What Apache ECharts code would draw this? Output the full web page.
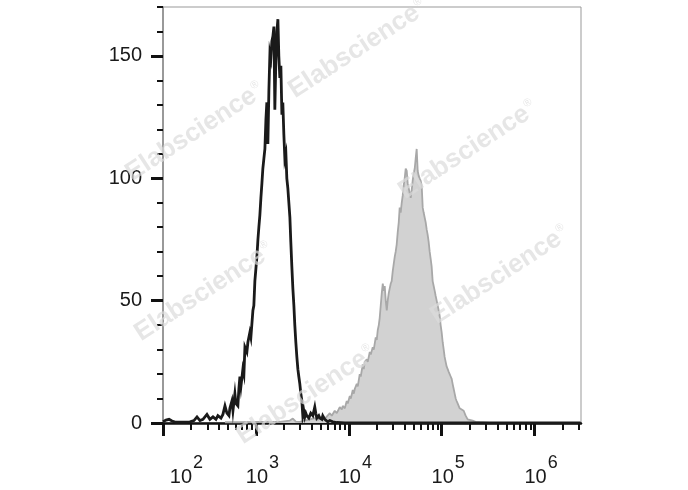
<!DOCTYPE html>
<html>
<head>
<meta charset="utf-8">
<script src="https://cdn.jsdelivr.net/npm/echarts@6/dist/echarts.min.js"></script>
<style>
html,body{margin:0;padding:0;background:#fff;}
#chart{width:688px;height:490px;}
</style>
</head>
<body>
<div id="chart"></div>
<script>
// Tick values and labels
const xMajorTicks = [2, 3, 4, 5, 6];          // log10 of fluorescence
const xTickExponents = ['2', '3', '4', '5', '6'];
const yMajorTicks = [0, 50, 100, 150];
const yTickLabels = ['0', '50', '100', '150'];
const yMinorTicks = [10, 20, 30, 40, 60, 70, 80, 90, 110, 120, 130, 140, 160, 170];
const xMinorMultipliers = [2, 3, 4, 5, 6, 7, 8, 9];
const watermarkText = 'Elabscience';

// Stained sample (black outline): [log10 FL, count]
const blackHist = [
  [2.000,0.5],[2.032,1.2],[2.065,1.5],[2.097,0.8],[2.140,0.3],[2.183,0.3],[2.237,0.3],[2.290,0.5],
  [2.333,1],[2.366,2.5],[2.398,1],[2.430,1.5],[2.473,3.5],[2.505,1.5],[2.538,2.5],[2.570,1.5],
  [2.591,3],[2.624,2],[2.645,3.5],[2.667,7],[2.688,4],[2.710,3],[2.720,6],[2.742,9],[2.753,5],
  [2.774,12],[2.785,8],[2.806,7],[2.817,14],[2.828,19],[2.839,15],[2.860,22],[2.871,20],[2.882,31],
  [2.903,29],[2.914,33],[2.935,37],[2.946,35],[2.968,46],[2.978,48],[2.989,58],[3.000,63],[3.011,68],
  [3.022,75],[3.032,80],[3.043,85],[3.054,92],[3.065,98],[3.075,104],[3.086,108],[3.097,112],[3.108,124],
  [3.118,131],[3.129,114],[3.140,136],[3.151,151],[3.161,149],[3.172,156],[3.183,158],[3.194,162],
  [3.204,128],[3.215,148],[3.226,160],[3.237,165],[3.247,150],[3.258,141],[3.269,146],[3.280,126],
  [3.290,131],[3.301,118],[3.312,108],[3.323,110],[3.333,100],[3.344,96],[3.355,90],[3.366,84],
  [3.376,74],[3.387,64],[3.398,55],[3.409,48],[3.419,40],[3.430,33],[3.441,27],[3.452,22],[3.462,19],
  [3.473,16],[3.484,12],[3.495,9],[3.505,3],[3.516,5],[3.527,2.5],[3.538,4],[3.548,3],[3.570,2],
  [3.591,4],[3.613,3],[3.634,6.5],[3.645,4],[3.656,2],[3.677,3],[3.688,2],[3.710,1.5],[3.720,3],
  [3.742,1.5],[3.774,0.5],[3.796,1],[3.828,0.5],[3.871,0.2],[3.957,0],[4.500,0],[5.500,0],[6.495,0]
];

// Control (grey filled): [log10 FL, count]
const greyHist = [
  [2.667,0.3],[2.828,0.3],[3.043,0.4],[3.258,0.5],[3.366,1],[3.398,1.8],[3.430,0.6],[3.473,0.5],
  [3.527,1],[3.581,1.5],[3.634,2],[3.667,1.2],[3.688,2.5],[3.720,1.5],[3.753,2.2],[3.774,3],
  [3.796,4],[3.817,3],[3.849,5],[3.871,4],[3.903,6.5],[3.925,5.5],[3.935,7],[3.957,6],[3.978,9],
  [3.989,8],[4.011,11],[4.022,10],[4.043,13.5],[4.054,12],[4.065,14],[4.086,16],[4.097,15],[4.118,20],
  [4.129,19],[4.151,24],[4.161,22],[4.172,25],[4.194,26],[4.204,25],[4.226,29],[4.237,28],[4.258,31],
  [4.269,30],[4.290,35],[4.301,34],[4.312,38],[4.323,40],[4.333,43],[4.344,48],[4.355,53],[4.366,57],
  [4.376,54],[4.387,56],[4.398,50],[4.409,46],[4.419,50],[4.430,53],[4.441,55],[4.452,57],[4.462,58],
  [4.473,62],[4.484,65],[4.495,68],[4.505,70],[4.516,73],[4.527,78],[4.538,82],[4.548,88],[4.559,86],
  [4.570,90],[4.581,93],[4.591,97],[4.602,100],[4.613,104],[4.624,103],[4.634,98],[4.645,96],[4.656,94],
  [4.667,92],[4.677,95],[4.688,99],[4.699,102],[4.710,104],[4.720,108],[4.731,112],[4.742,103],
  [4.753,101],[4.763,100],[4.774,99],[4.785,97],[4.796,88],[4.806,86],[4.817,84],[4.828,82],[4.839,79],
  [4.849,77],[4.860,74],[4.871,70],[4.882,67],[4.892,64],[4.903,58],[4.914,56],[4.925,54],[4.935,52],
  [4.946,50],[4.957,48],[4.968,46],[4.978,44],[4.989,40],[5.000,37],[5.011,33],[5.022,30],[5.032,27],
  [5.043,25],[5.054,23],[5.065,22],[5.075,21],[5.086,20],[5.097,19],[5.108,18],[5.118,16],[5.129,14],
  [5.140,12],[5.151,10],[5.161,9],[5.172,8],[5.183,7],[5.194,6],[5.215,6.5],[5.237,5],[5.258,3],
  [5.269,2.5],[5.280,1.5],[5.301,1],[5.333,1],[5.366,0.5],[5.409,0.3],[5.516,0]
];

const xMinorTicks = [];
xMajorTicks.forEach(function (n) {
  xMinorMultipliers.forEach(function (k) {
    const v = n + Math.log10(k);
    if (v <= 6.5) xMinorTicks.push(v);
  });
});

const chart = echarts.init(document.getElementById('chart'), null, {renderer: 'canvas'});
const FONT = 'Liberation Sans, Arial, sans-serif';

const wmPos = [[195,132],[358,49],[468,150],[204,292],[500,275],[306,395]];
const graphics = wmPos.map(function (p) {
  return {
    type: 'text', x: p[0], y: p[1], rotation: 33 * Math.PI / 180, z: 100, silent: true,
    style: {
      text: '{a|' + watermarkText + '}{r|®}',
      align: 'center', verticalAlign: 'middle',
      fill: '#dcdcdc', opacity: 0.7,
      rich: {
        a: {fontSize: 26, fontWeight: 'bold', fontFamily: FONT, fill: '#dcdcdc'},
        r: {fontSize: 11, fontFamily: FONT, fill: '#dcdcdc', padding: [0,0,14,1]}
      }
    }
  };
});

chart.setOption({
  animation: false,
  grid: {left: 163, top: 7, right: 107, bottom: 67, show: true, borderColor: '#999', borderWidth: 1},
  xAxis: [{
    type: 'value', min: 2, max: 6.5, position: 'bottom',
    axisLine: {onZero: false, lineStyle: {color: '#111', width: 2.5}},
    splitLine: {show: false},
    axisTick: {customValues: xMajorTicks, length: 13, lineStyle: {color: '#111', width: 3}},
    axisLabel: {
      customValues: xMajorTicks, margin: 38, color: '#1a1a1a', fontFamily: FONT,
      formatter: function (v) {
        const i = xMajorTicks.indexOf(Math.round(v));
        const e = xTickExponents[i];
        return (i === 0 ? '{f|10}' : '{b|10}') + '{s|' + e + '}';
      },
      rich: {
        b: {fontSize: 20, lineHeight: 20, fontFamily: FONT, color: '#1a1a1a', padding: [13,0,0,13]},
        f: {fontSize: 20, lineHeight: 20, fontFamily: FONT, color: '#1a1a1a', padding: [13,0,0,47]},
        s: {fontSize: 18, lineHeight: 18, fontFamily: FONT, color: '#1a1a1a', padding: [0,0,15,1]}
      }
    }
  }, {
    type: 'value', min: 2, max: 6.5, position: 'bottom',
    axisLine: {show: false, onZero: false},
    splitLine: {show: false},
    axisTick: {customValues: xMinorTicks, length: 7, lineStyle: {color: '#111', width: 2}},
    axisLabel: {show: false}
  }],
  yAxis: [{
    type: 'value', min: 0, max: 170, position: 'left',
    axisLine: {show: true, onZero: false, lineStyle: {color: '#888', width: 1.5}},
    splitLine: {show: false},
    axisTick: {customValues: yMajorTicks, length: 12, lineStyle: {color: '#111', width: 3}},
    axisLabel: {
      customValues: yMajorTicks, margin: 21, fontSize: 20, fontFamily: FONT, color: '#1a1a1a',
      formatter: function (v) { return yTickLabels[yMajorTicks.indexOf(v)]; }
    }
  }, {
    type: 'value', min: 0, max: 170, position: 'left',
    axisLine: {show: false, onZero: false},
    splitLine: {show: false},
    axisTick: {customValues: yMinorTicks, length: 6, lineStyle: {color: '#111', width: 2}},
    axisLabel: {show: false}
  }],
  series: [{
    type: 'line', name: 'Control', data: greyHist, xAxisIndex: 0, yAxisIndex: 0,
    showSymbol: false, symbol: 'none', z: 2,
    lineStyle: {color: '#a8a8a8', width: 1.8},
    areaStyle: {color: '#d2d2d2', opacity: 1}
  }, {
    type: 'line', name: 'Stained', data: blackHist, xAxisIndex: 0, yAxisIndex: 0,
    showSymbol: false, symbol: 'none', z: 3,
    lineStyle: {color: '#1a1a1a', width: 2.8, join: 'miter'}
  }],
  graphic: graphics
});
</script>
</body>
</html>
